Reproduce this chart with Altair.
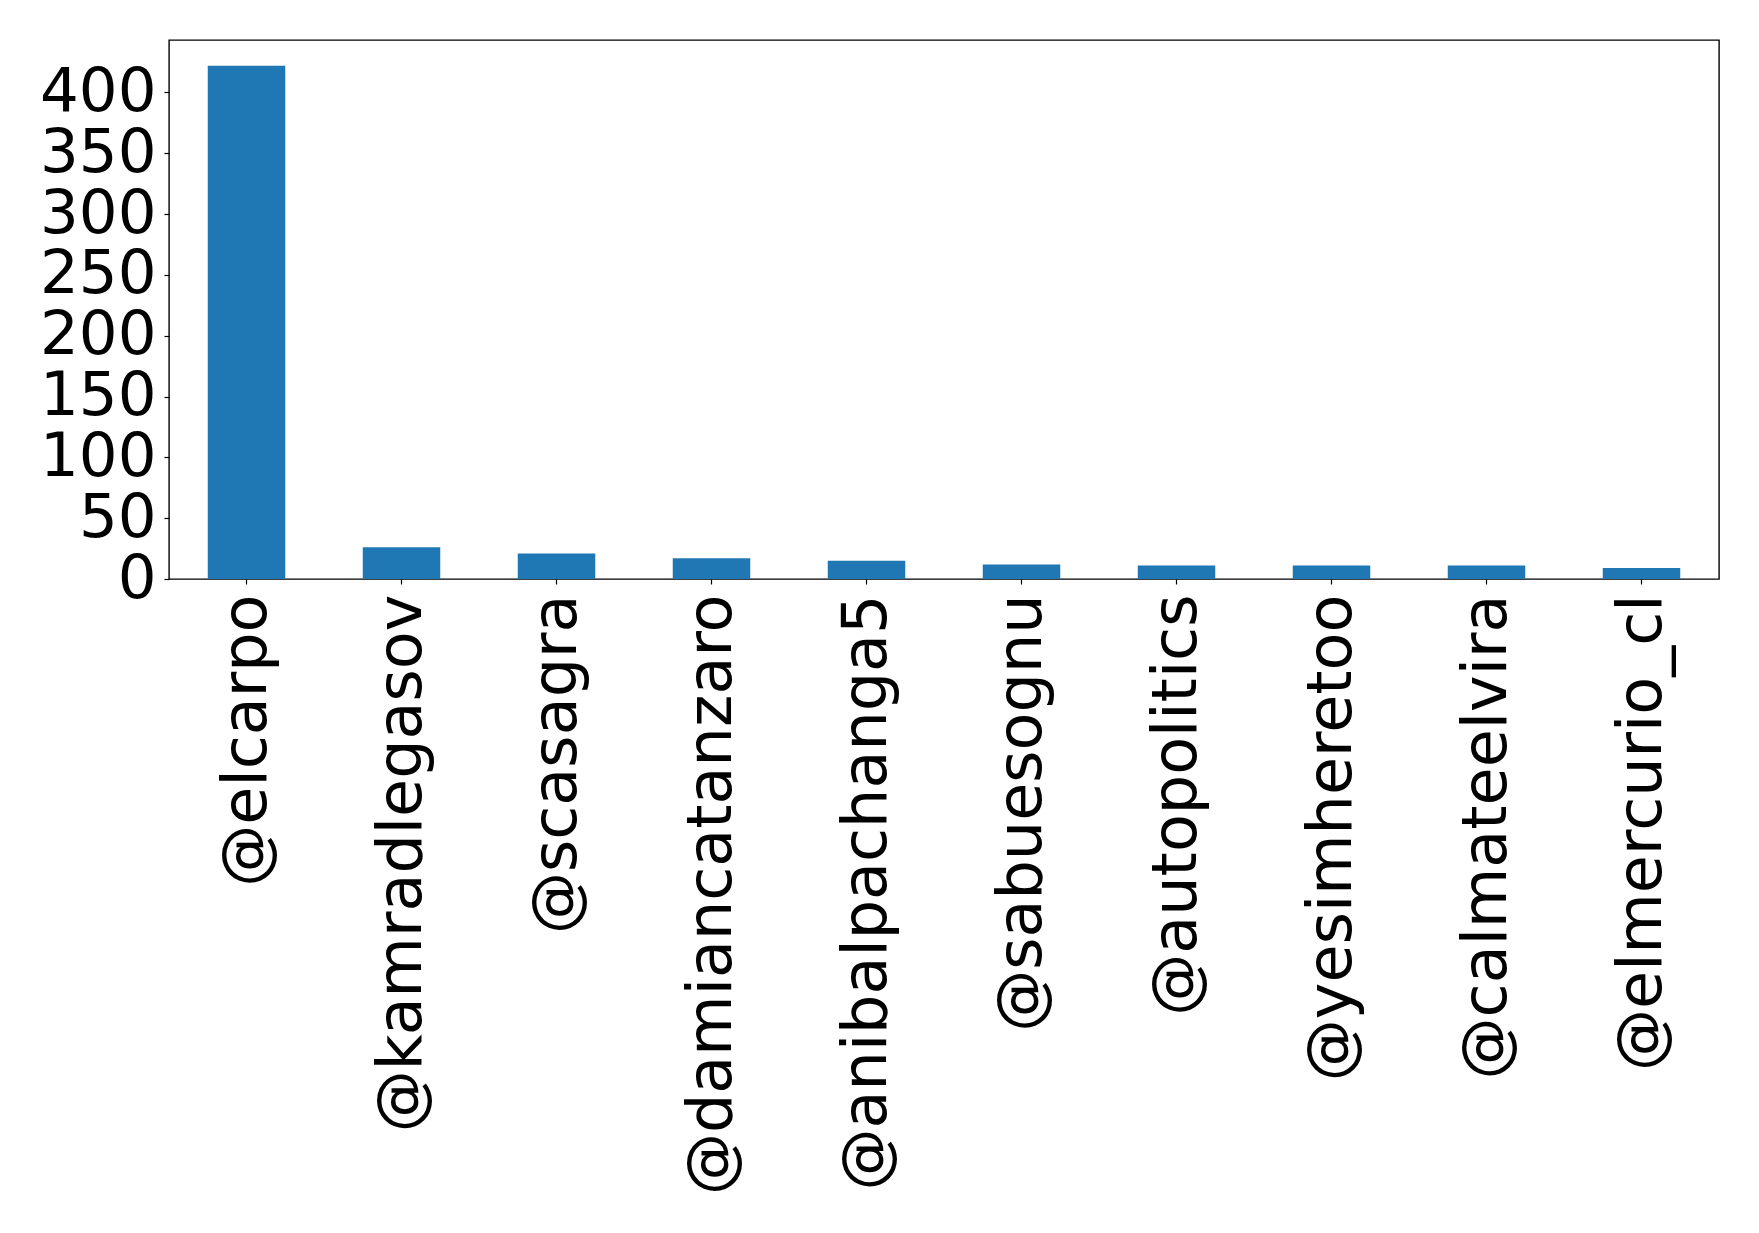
import altair as alt
import pandas as pd

users = ["@elcarpo", "@kamradlegasov", "@scasagra", "@damiancatanzaro",
         "@anibalpachanga5", "@sabuesognu", "@autopolitics", "@yesimheretoo",
         "@calmateelvira", "@elmercurio_cl"]
counts = [422, 26, 21, 17, 15, 12, 11, 11, 11, 9]
y_ticks = [0, 50, 100, 150, 200, 250, 300, 350, 400]

df = pd.DataFrame({"user": users, "count": counts})

FONT = "DejaVu Sans"

chart = alt.Chart(df).mark_bar(color="#1f77b4").encode(
    x=alt.X("user:N", sort=users, title=None,
            scale=alt.Scale(paddingInner=0.5, paddingOuter=0.25),
            axis=alt.Axis(labelAngle=-90, labelFontSize=62, labelFont=FONT,
                          labelColor="black", labelPadding=10, tickSize=5,
                          tickColor="black", tickWidth=1.2, domain=False,
                          labelLimit=1000)),
    y=alt.Y("count:Q", title=None,
            scale=alt.Scale(domain=[0, 443.1], nice=False, zero=True),
            axis=alt.Axis(values=y_ticks, labelFontSize=61, labelFont=FONT,
                          labelColor="black", labelPadding=8, tickSize=5,
                          tickColor="black", tickWidth=1.2, domain=False,
                          grid=False, labelFlush=False, labelOverlap=False)),
).properties(
    width=1550,
    height=539,
    autosize=alt.AutoSizeParams(type="none"),
    padding={"left": 161, "top": 32, "right": 30, "bottom": 640},
).configure(
    background="white",
    view=alt.ViewConfig(stroke="black", strokeWidth=1.4),
)

chart.save("out.html", embed_options={"renderer": "svg", "actions": False})
